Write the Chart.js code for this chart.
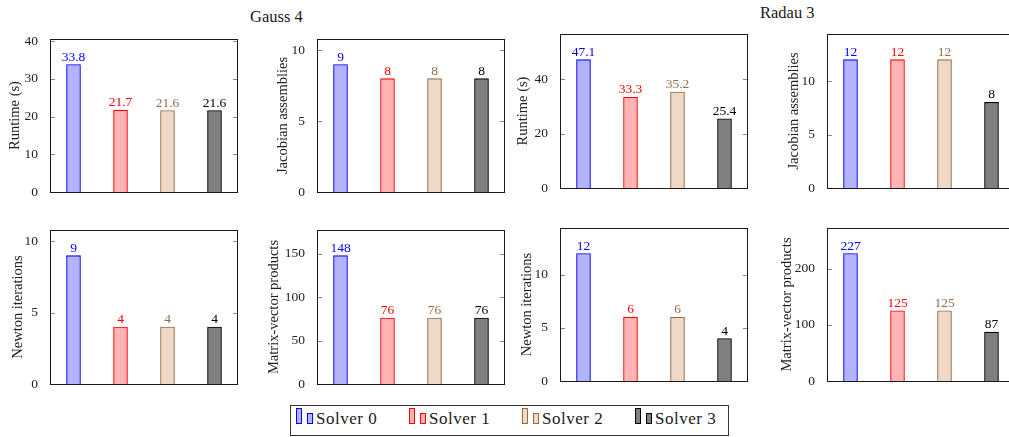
<!DOCTYPE html>
<html>
<head>
<meta charset="utf-8">
<script src="https://cdn.jsdelivr.net/npm/chart.js@4.4.1/dist/chart.umd.min.js"></script>
<style>
  html, body { margin: 0; padding: 0; background: #fff; }
  body { width: 1009px; height: 437px; position: relative; overflow: hidden;
         font-family: "Liberation Serif", "DejaVu Serif", serif; color: #1a1a1a; }
  canvas { position: absolute; }
  .group-title { position: absolute; font-size: 16.5px; white-space: nowrap; }
  #legend { position: absolute; left: 290px; top: 405px; width: 437px; height: 29px;
            border: 1px solid #333; }
  .item { position: absolute; top: 0; height: 29px; }
  .mk { position: absolute; width: 4px; box-sizing: content-box; border: 1px solid; }
  .txt { position: absolute; top: 3px; font-size: 17px; letter-spacing: 0.5px; white-space: nowrap; }
</style>
</head>
<body>
<div class="group-title" style="left:250px; top:7px;">Gauss 4</div>
<div class="group-title" style="left:760px; top:3px;">Radau 3</div>
<div id="legend"></div>

<script>
// data
var solvers = ['Solver 0', 'Solver 1', 'Solver 2', 'Solver 3'];

var gaussRuntime  = [33.8, 21.7, 21.6, 21.6];
var gaussJacobian = [9, 8, 8, 8];
var gaussNewton   = [9, 4, 4, 4];
var gaussMatvec   = [148, 76, 76, 76];

var radauRuntime  = [47.1, 33.3, 35.2, 25.4];
var radauJacobian = [12, 12, 12, 8];
var radauNewton   = [12, 6, 6, 4];
var radauMatvec   = [227, 125, 125, 87];

// pgfplots-like colours: fill = colour!30, border = colour
var fillColors   = ['rgb(179,179,255)', 'rgb(255,179,179)', 'rgb(237,217,198)', 'rgb(128,128,128)'];
var borderColors = ['rgb(0,0,255)', 'rgb(255,0,0)', 'rgb(150,108,70)', 'rgb(0,0,0)'];

var FONT = '"Liberation Serif", "DejaVu Serif", serif';
var AXIS_W = 60, PLOT_W = 188, PAD = 20, PAD_R = 6;
var TITLE_SIZE = 14.5;

// inward ticks on both sides + box frame
var framePlugin = {
    id: 'frame',
    afterDraw: function (chart) {
        var ctx = chart.ctx, a = chart.chartArea, y = chart.scales.y;
        ctx.save();
        ctx.lineWidth = 1;
        ctx.strokeStyle = '#8a8a8a';
        y.ticks.forEach(function (t) {
            var py = Math.round(y.getPixelForValue(t.value)) + 0.5;
            ctx.beginPath();
            ctx.moveTo(a.left, py); ctx.lineTo(a.left + 5, py);
            ctx.moveTo(a.right, py); ctx.lineTo(a.right - 5, py);
            ctx.stroke();
        });
        ctx.strokeStyle = '#1a1a1a';
        ctx.strokeRect(a.left + 0.5, a.top + 0.5, a.right - a.left - 1, a.bottom - a.top);
        ctx.restore();
    }
};

// value labels above the bars
var labelPlugin = {
    id: 'barLabels',
    afterDatasetsDraw: function (chart) {
        var ctx = chart.ctx;
        var values = chart.data.datasets[0].data;
        ctx.save();
        ctx.font = '13.5px ' + FONT;
        ctx.textAlign = 'center';
        ctx.textBaseline = 'alphabetic';
        chart.getDatasetMeta(0).data.forEach(function (bar, i) {
            ctx.fillStyle = borderColors[i];
            ctx.fillText(String(values[i]), bar.x, bar.y - 4);
        });
        ctx.restore();
    }
};

function makePanel(p) {
    var c = document.createElement('canvas');
    c.width = AXIS_W + PLOT_W + PAD_R;
    c.height = PAD + p.H + PAD;
    var left = p.L - AXIS_W;
    c.style.left = left + 'px';
    c.style.top = (p.T - PAD) + 'px';
    document.body.appendChild(c);

    var lh = TITLE_SIZE * 1.2;
    var titlePad = p.titleX - left - lh / 2;
    var ymax = Math.max.apply(null, p.values) * 1.2;

    new Chart(c.getContext('2d'), {
        type: 'bar',
        data: {
            labels: solvers,
            datasets: [{
                data: p.values,
                backgroundColor: fillColors,
                borderColor: borderColors,
                borderWidth: 1.1,
                barThickness: 14
            }]
        },
        options: {
            responsive: false,
            devicePixelRatio: 1,
            animation: false,
            layout: { padding: { top: PAD, bottom: PAD, left: 0, right: PAD_R } },
            plugins: { legend: { display: false }, tooltip: { enabled: false } },
            scales: {
                x: { display: false },
                y: {
                    min: 0,
                    max: ymax,
                    afterFit: function (s) { s.width = AXIS_W; },
                    grid: { display: false },
                    border: { display: false },
                    ticks: {
                        stepSize: p.step,
                        includeBounds: false,
                        padding: 4,
                        color: '#222',
                        font: { family: FONT, size: 13.5 }
                    },
                    title: {
                        display: true,
                        text: p.title,
                        color: '#222',
                        font: { family: FONT, size: TITLE_SIZE },
                        padding: { top: titlePad, bottom: 0 }
                    }
                }
            }
        },
        plugins: [framePlugin, labelPlugin]
    });
}

var panels = [
    { values: gaussRuntime,  title: 'Runtime (s)',           step: 10,  L: 50,  T: 39,  H: 153, titleX: 15 },
    { values: gaussJacobian, title: 'Jacobian assemblies',   step: 5,   L: 317, T: 39,  H: 153, titleX: 283.5 },
    { values: gaussNewton,   title: 'Newton iterations',     step: 5,   L: 50,  T: 230, H: 154, titleX: 18.3 },
    { values: gaussMatvec,   title: 'Matrix-vector products', step: 50, L: 317, T: 230, H: 154, titleX: 273.8 },
    { values: radauRuntime,  title: 'Runtime (s)',           step: 20,  L: 560, T: 34,  H: 154, titleX: 523 },
    { values: radauJacobian, title: 'Jacobian assemblies',   step: 5,   L: 827, T: 34,  H: 154, titleX: 794.5 },
    { values: radauNewton,   title: 'Newton iterations',     step: 5,   L: 560, T: 228, H: 153, titleX: 527 },
    { values: radauMatvec,   title: 'Matrix-vector products', step: 100, L: 827, T: 228, H: 153, titleX: 786.7 }
];
panels.forEach(makePanel);

// legend
var legend = document.getElementById('legend');
solvers.forEach(function (name, i) {
    var item = document.createElement('div');
    item.className = 'item';
    item.style.left = (5 + i * 113) + 'px';
    var m1 = document.createElement('div');
    m1.className = 'mk';
    m1.style.cssText = 'left:0; top:2px; height:14px; background:' + fillColors[i] + '; border-color:' + borderColors[i];
    var m2 = document.createElement('div');
    m2.className = 'mk';
    m2.style.cssText = 'left:11px; top:7px; height:9px; background:' + fillColors[i] + '; border-color:' + borderColors[i];
    var t = document.createElement('div');
    t.className = 'txt';
    t.style.left = '20px';
    t.textContent = name;
    item.appendChild(m1); item.appendChild(m2); item.appendChild(t);
    legend.appendChild(item);
});
</script>
</body>
</html>
